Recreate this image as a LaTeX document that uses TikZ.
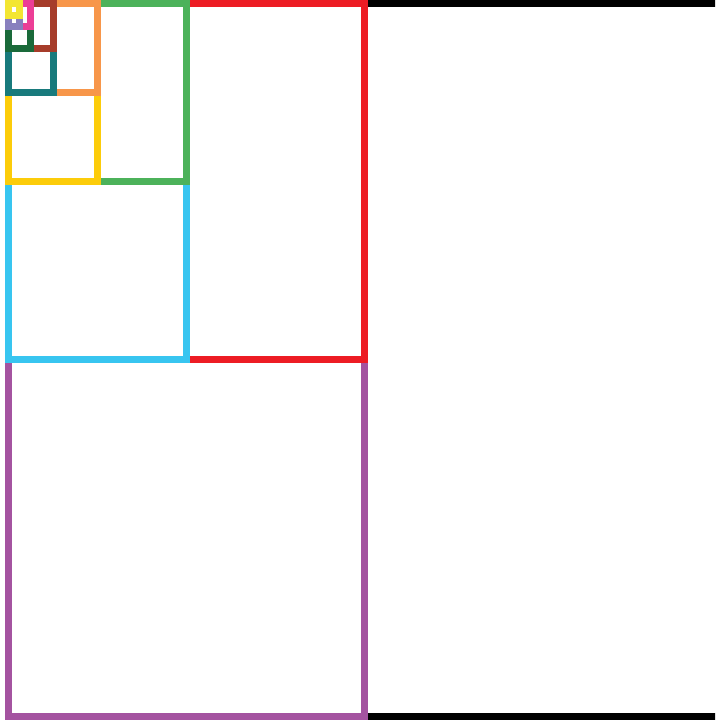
\documentclass[tikz,border=0pt]{standalone}
\definecolor{cPurple}{RGB}{164,83,160}
\definecolor{cRed}{RGB}{237,28,36}
\definecolor{cCyan}{RGB}{56,197,240}
\definecolor{cGreen}{RGB}{76,178,90}
\definecolor{cYellow}{RGB}{252,204,10}
\definecolor{cOrange}{RGB}{247,150,74}
\definecolor{cTeal}{RGB}{24,122,124}
\definecolor{cBrown}{RGB}{166,60,42}
\definecolor{cDkGreen}{RGB}{26,106,58}
\definecolor{cPink}{RGB}{236,62,150}
\definecolor{cLavender}{RGB}{136,128,190}
\definecolor{cYellowB}{RGB}{243,230,50}
\begin{document}
\begin{tikzpicture}[x=1pt,y=-1pt,sq/.style={draw=#1,line width=7pt}]
\fill[white] (0,0) rectangle (715,722);
\useasboundingbox (0,0) rectangle (715,722);
\clip (0,0) rectangle (715,722);
\draw[sq=black]     (8.5,4) rectangle +(712,712.5);
\draw[sq=cPurple]   (8.5,4) rectangle +(356,712.5);
\draw[sq=cRed]      (8.5,4) rectangle +(356,355);
\draw[sq=cCyan]     (8.5,4) rectangle +(178,355);
\draw[sq=cGreen]    (8.5,4) rectangle +(178,177.5);
\draw[sq=cYellow]   (8.5,4) rectangle +(89,177.5);
\draw[sq=cOrange]   (8.5,4) rectangle +(89,88.75);
\draw[sq=cTeal]     (8.5,4) rectangle +(44.5,88.75);
\draw[sq=cBrown]    (8.5,4) rectangle +(44.5,44.4);
\draw[sq=cDkGreen]  (8.5,4) rectangle +(22.25,44.4);
\draw[sq=cPink]     (8.5,4) rectangle +(22.25,22.2);
\draw[sq=cLavender] (8.5,4) rectangle +(11.12,22.2);
\draw[sq=cYellowB]  (8.5,4) rectangle +(11.12,11.1);
\end{tikzpicture}
\end{document}
